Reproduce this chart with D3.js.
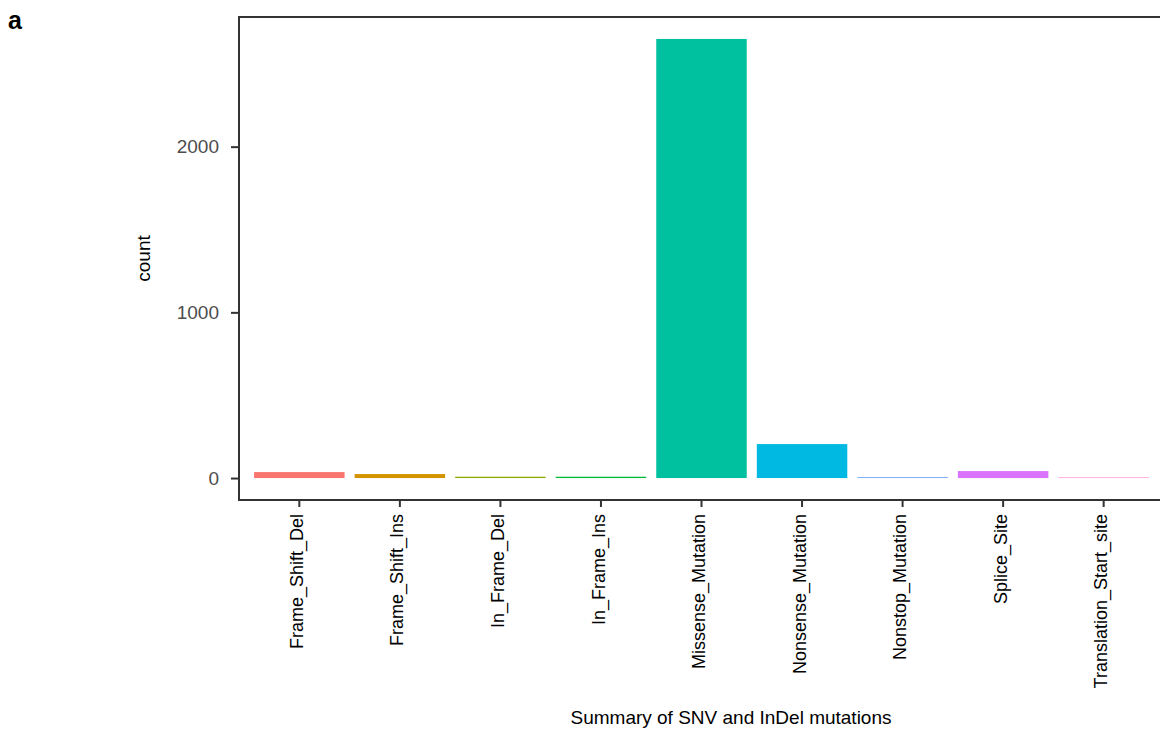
<!DOCTYPE html>
<html>
<head>
<meta charset="utf-8">
<script src="https://cdn.jsdelivr.net/npm/d3@7"></script>
<style>
  body { margin: 0; background: #fff; }
  text { font-family: "Liberation Sans", Arial, sans-serif; }
</style>
</head>
<body>
<svg id="chart"></svg>
<script>
// data
var categories = ['Frame_Shift_Del', 'Frame_Shift_Ins', 'In_Frame_Del', 'In_Frame_Ins',
	'Missense_Mutation', 'Nonsense_Mutation', 'Nonstop_Mutation', 'Splice_Site', 'Translation_Start_site'];
var counts = [36, 24, 8, 8, 2650, 205, 5, 42, 3];
var colors = ['#F8766D', '#D39200', '#93AA00', '#00BA38', '#00C19F', '#00B9E3', '#619CFF', '#DB72FB', '#FF61C3'];
var yTicks = [0, 1000, 2000];

// layout
var width = 1160,
	height = 731,
	panelLeft = 239,
	panelTop = 17,
	panelBottom = 500,
	panelRight = 1164;

var svg = d3.select('#chart')
	.attr('width', width)
	.attr('height', height);

// ggplot discrete expansion: 0.6 step from the edge to the first centre
var x = d3.scaleBand()
	.domain(categories)
	.range([panelLeft, panelRight])
	.paddingInner(0.1)
	.paddingOuter(0.15);

// ggplot style 5% expansion on both ends
var yMax = d3.max(counts);
var y = d3.scaleLinear()
	.domain([-0.05 * yMax, 1.05 * yMax])
	.range([panelBottom, panelTop]);

var bars = svg.selectAll('.bar')
	.data(categories)
	.enter().append('rect')
		.attr('class', 'bar')
		.attr('x', function(d) { return x(d); })
		.attr('width', x.bandwidth())
		.attr('y', function(d, i) { return y(counts[i]); })
		.attr('height', function(d, i) { return y(0) - y(counts[i]); })
		.attr('fill', function(d, i) { return colors[i]; });

// panel border
svg.append('rect')
	.attr('x', panelLeft)
	.attr('y', panelTop)
	.attr('width', panelRight - panelLeft)
	.attr('height', panelBottom - panelTop)
	.attr('fill', 'none')
	.attr('stroke', '#333333')
	.attr('stroke-width', 2);

// y axis
var yAxis = svg.append('g')
	.attr('transform', 'translate(' + panelLeft + ',0)')
	.call(d3.axisLeft(y).tickValues(yTicks).tickSize(8).tickPadding(12).tickFormat(d3.format('d')));
yAxis.select('.domain').remove();
yAxis.selectAll('line').attr('stroke', '#333333').attr('stroke-width', 2);
yAxis.selectAll('text')
	.attr('fill', '#4d4d4d')
	.attr('x', -20)
	.style('font-size', '19px')
	.style('font-family', '"Liberation Sans", Arial, sans-serif');

// x axis
var xAxis = svg.append('g')
	.attr('transform', 'translate(0,' + panelBottom + ')')
	.call(d3.axisBottom(x).tickSize(7).tickPadding(5));
xAxis.select('.domain').remove();
xAxis.selectAll('line').attr('stroke', '#333333').attr('stroke-width', 2);
xAxis.selectAll('text')
	.attr('fill', '#000')
	.style('font-size', '18px')
	.style('font-family', '"Liberation Sans", Arial, sans-serif')
	.attr('text-anchor', 'end')
	.attr('transform', 'rotate(-90)')
	.attr('x', -14)
	.attr('y', 0)
	.attr('dy', '0.2em');

// axis titles
svg.append('text')
	.attr('x', 731)
	.attr('y', 724)
	.attr('text-anchor', 'middle')
	.style('font-size', '19px')
	.text('Summary of SNV and InDel mutations');

svg.append('text')
	.attr('transform', 'translate(150,' + (panelTop + panelBottom) / 2 + ') rotate(-90)')
	.attr('text-anchor', 'middle')
	.style('font-size', '19px')
	.text('count');

// panel tag
svg.append('text')
	.attr('x', 8)
	.attr('y', 29)
	.style('font-size', '25px')
	.style('font-weight', 'bold')
	.text('a');
</script>
</body>
</html>
